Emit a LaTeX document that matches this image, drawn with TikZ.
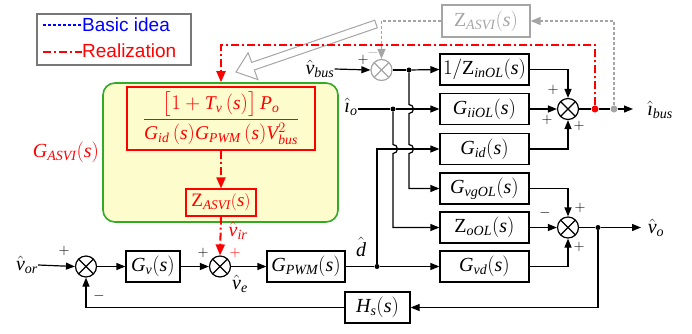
\documentclass[tikz,border=0pt]{standalone}
\usepackage{amsmath}
\usepackage{fontspec}
\setmainfont{Liberation Serif}
\newfontfamily\legfont{Liberation Sans}
\newfontfamily\lsfam{Liberation Serif}[NFSSFamily=lsrm]
\DeclareSymbolFont{lsit}{TU}{lsrm}{m}{it}
\DeclareSymbolFont{lsup}{TU}{lsrm}{m}{n}
\newcount\myc
\myc=`a \loop \Umathcode\myc="7 \symlsit \myc \ifnum\myc<`z \advance\myc by 1 \repeat
\myc=`A \loop \Umathcode\myc="7 \symlsit \myc \ifnum\myc<`Z \advance\myc by 1 \repeat
\myc=`0 \loop \Umathcode\myc="0 \symlsup \myc \ifnum\myc<`9 \advance\myc by 1 \repeat
\Umathcode`(="4 \symlsup `(
\Umathcode`)="5 \symlsup `)
\Umathcode`/="0 \symlsup `/
\Umathchardef\limath="7 \symlsit "131
\newcommand\rmZ{\mathord{\text{Z}}}
\usetikzlibrary{arrows.meta,calc}
\definecolor{ared}{RGB}{255,0,0}
\definecolor{agray}{RGB}{165,165,165}
\definecolor{lgray}{RGB}{120,120,120}
\definecolor{agreen}{RGB}{50,170,40}
\definecolor{ayellow}{RGB}{253,252,205}
\definecolor{ablue}{RGB}{0,0,255}
\newcommand\fsbox{\fontsize{20}{22}\selectfont}
\newcommand\fssign{\fontsize{15}{17}\selectfont}
\begin{document}
\begin{tikzpicture}[x=1pt,y=-1pt,
  wire/.style={line width=1.2pt},
  arr/.style={wire,-{Triangle[length=9pt,width=7pt]}},
  blk/.style={draw,line width=1.2pt,minimum width=89pt,minimum height=31pt,inner sep=0pt,font=\fsbox},
  sumn/.style={circle,draw,line width=1.2pt,minimum size=21pt,inner sep=0pt,
    path picture={\draw[line width=1.2pt] (path picture bounding box.north west)--(path picture bounding box.south east)
      (path picture bounding box.north east)--(path picture bounding box.south west);}},
  gsumn/.style={circle,draw=agray,line width=1.2pt,minimum size=21pt,inner sep=0pt,
    path picture={\draw[line width=1.2pt,agray] (path picture bounding box.north west)--(path picture bounding box.south east)
      (path picture bounding box.north east)--(path picture bounding box.south west);}},
  jdot/.style={circle,fill,inner sep=0pt,minimum size=5pt},
  lab/.style={font=\fsbox,inner sep=0pt},
  sgn/.style={font=\fssign,inner sep=0pt},
  rdash/.style={ared,line width=2pt,dash pattern=on 8pt off 3pt on 2pt off 3pt},
  rarr/.style={-{Triangle[length=11pt,width=9pt]}},
  gdash/.style={agray,line width=1.3pt,dash pattern=on 3pt off 2pt},
  garr/.style={-{Triangle[length=10pt,width=8pt]}}
]
\useasboundingbox (0,0) rectangle (692,333);

% legend
\node[draw=lgray,line width=1.2pt,minimum width=154pt,minimum height=51pt,inner sep=0pt] (leg) at (114,39.5) {};
\coordinate (lb1) at (43,25); \coordinate (lb2) at (82,25);
\coordinate (lr1) at (43,52); \coordinate (lr2) at (82,52);
\draw[ablue,line width=1.6pt,dash pattern=on 3pt off 2pt] (lb1) -- (lb2);
\draw[rdash] (lr1) -- (lr2);
\node[anchor=west,inner sep=0pt,text=ablue,font=\legfont\fontsize{19}{21}\selectfont] (ltb) at (82,25) {Basic idea};
\node[anchor=west,inner sep=0pt,text=ared,font=\legfont\fontsize{19}{21}\selectfont] (ltr) at (82,51) {Realization};

% green box
\node[draw=agreen,fill=ayellow,line width=1.6pt,rounded corners=12pt,minimum width=235pt,minimum height=139pt] (gbox) at (220.5,152.5) {};
\node[lab,text=ared] (gasvi) at (66,152) {$G_{ASVI}(s)$};
\node[draw=ared,line width=1.3pt,minimum width=188pt,minimum height=63pt,inner sep=0pt,text=ared,font=\fontsize{19.5}{21}\selectfont] (fb) at (221,118.5)
  {$\dfrac{\bigl[1+T_v\,(s)\bigr]\,P_o}{G_{id}\,(s)G_{PWM}\,(s)V_{bus}^2}$};
\node[blk,draw=ared,text=ared,line width=1.3pt,minimum width=70pt,minimum height=27pt,font=\fontsize{19}{21}\selectfont] (rz) at (221,202.5) {$\rmZ_{ASVI}(s)$};

% hollow gray arrow
\draw[agray,fill=white,line width=1pt] (377.3,27.8) -- (254.3,70) -- (257.9,79.6) -- (236,72) -- (248.1,52.8) -- (251.7,62.4) -- (374.7,20.2) -- cycle;

% gray Z box
\node[blk,draw=agray,text=agray,minimum width=88pt,minimum height=32pt] (gz) at (486,21) {$\rmZ_{ASVI}(s)$};

% blocks
\node[blk] (zin) at (484.5,69.5) {$1/\rmZ_{inOL}(s)$};
\node[blk] (gii) at (484.5,109) {$G_{iiOL}(s)$};
\node[blk] (gid) at (484.5,149) {$G_{id}(s)$};
\node[blk] (gvg) at (484.5,188.5) {$G_{vgOL}(s)$};
\node[blk] (zo) at (484.5,227.5) {$\rmZ_{oOL}(s)$};
\node[blk] (gvd) at (484.5,266.5) {$G_{vd}(s)$};
\node[blk,minimum width=54pt] (gv) at (153,266.5) {$G_v(s)$};
\node[blk,minimum width=78pt] (gpwm) at (306,266.5) {$G_{PWM}(s)$};
\node[blk,minimum width=65pt] (hs) at (377.5,307.5) {$H_s(s)$};

% sums
\node[gsumn] (s0) at (381.5,70) {};
\node[sumn] (s4) at (568,109) {};
\node[sumn] (s3) at (568,227.5) {};
\node[sumn] (s1) at (86,266.5) {};
\node[sumn] (s2) at (220,266.5) {};

% junctions
\node[jdot] (j1) at (409,70) {};
\node[jdot] (j2) at (393,109) {};
\node[jdot] (j3) at (377,266.5) {};
\node[jdot] (j4) at (598,227.5) {};
\node[jdot,ared,minimum size=7pt] (rd) at (595,109) {};
\node[jdot,agray,minimum size=7pt] (gd) at (614,109) {};
\coordinate (ibus) at (633,109);
\coordinate (vo) at (641,227.5);

% labels
\node[lab] (vbus) at (320,69) {$\hat{v}_{bus}$};
\node[lab] (io) at (351,107) {$\hat{\limath}_{o}$};
\node[lab] (ibl) at (660,110) {$\hat{\limath}_{bus}$};
\node[lab] (vol) at (656,228) {$\hat{v}_{o}$};
\node[lab] (vor) at (27,265) {$\hat{v}_{or}$};
\node[lab] (dl) at (361,247) {$\hat{d}$};
\node[lab,text=ared] (vir) at (238,231) {$\hat{v}_{ir}$};
\node[lab] (vel) at (240,284) {$\hat{v}_{e}$};

% signs
\node[sgn] at (363,60) {$+$};
\node[sgn,text=agray] at (373,53) {$-$};
\node[sgn] at (553,90) {$+$};
\node[sgn] at (547,120) {$+$};
\node[sgn] at (579,126) {$+$};
\node[sgn] at (580,208) {$+$};
\node[sgn] at (545,213) {$-$};
\node[sgn] at (579,247) {$+$};
\node[sgn] at (64,251) {$+$};
\node[sgn] at (99,296) {$-$};
\node[sgn] at (203,253) {$+$};
\node[sgn,text=ared] at (235,253) {$+$};

% connectors
\draw[arr] (vbus.east) -- (s0.west);
\draw[wire] (s0.east) -- (j1);
\draw[arr] (j1) -- (zin.west);
\draw[wire] (io.east |- j2) -- (j2);
\draw[arr] (j2) -- (gii.west);
\draw[arr] (j1) -- (409,104.5) arc[start angle=90,end angle=-90,radius=4.5pt] -- (409,144.5) arc[start angle=90,end angle=-90,radius=4.5pt] -- (j1 |- gvg.west) -- (gvg.west);
\draw[arr] (j2) -- (393,144.5) arc[start angle=90,end angle=-90,radius=4.5pt] -- (j2 |- zo.west) -- (zo.west);
\draw[wire] (gpwm.east) -- (j3);
\draw[arr] (j3) -- (gvd.west);
\draw[arr] (j3) -- (j3 |- gid.west) -- (gid.west);
\draw[arr] (zin.east) -| (s4.north);
\draw[arr] (gii.east) -- (s4.west);
\draw[arr] (gid.east) -| (s4.south);
\draw[wire] (s4.east) -- (rd) -- (gd);
\draw[arr] (gd) -- (ibus);
\draw[arr] (gvg.east) -| (s3.north);
\draw[arr] (zo.east) -- (s3.west);
\draw[arr] (gvd.east) -| (s3.south);
\draw[wire] (s3.east) -- (j4);
\draw[arr] (j4) -- (vo);
\draw[arr] (j4) |- (hs.east);
\draw[arr] (hs.west) -| (s1.south);
\draw[arr] (vor.east) -- (s1.west);
\draw[arr] (s1.east) -- (gv.west);
\draw[arr] (gv.east) -- (s2.west);
\draw[arr] (s2.east) -- (gpwm.west);

% gray dashed
\draw[gdash,garr] (gd) |- (gz.east);
\draw[gdash,garr] (gz.west) -| (s0.north);

% red dash-dot
\coordinate (rc1) at (595,45);
\coordinate (rc2) at (221,45);
\draw[rdash,rarr] (rd) -- (rc1) -- (rc2) -- (rc2 |- gbox.north);
\draw[rdash,rarr] (fb.south) -- (rz.north);
\draw[rdash,rarr] (rz.south) -- (s2.north);
\end{tikzpicture}
\end{document}
